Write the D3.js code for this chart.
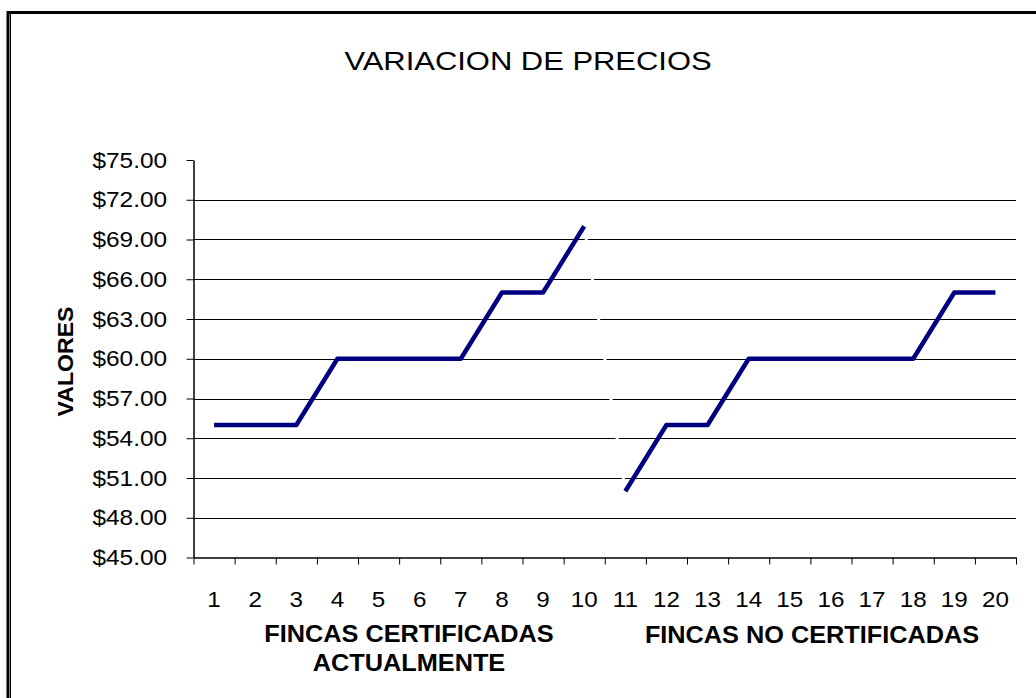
<!DOCTYPE html>
<html>
<head>
<meta charset="utf-8">
<script src="https://cdn.jsdelivr.net/npm/d3@7"></script>
<style>
  body { margin: 0; background: #fff; }
  svg { display: block; font-family: 'Liberation Sans', Arial, sans-serif; }
</style>
</head>
<body>
<svg id="chart" width="1036" height="698"></svg>
<script>
// data
const fincas = ['1', '2', '3', '4', '5', '6', '7', '8', '9', '10',
  '11', '12', '13', '14', '15', '16', '17', '18', '19', '20']
const certificadas = [55, 55, 55, 60, 60, 60, 60, 65, 65, 70]
const noCertificadas = [50, 55, 55, 60, 60, 60, 60, 60, 65, 65]
const yTicks = [45, 48, 51, 54, 57, 60, 63, 66, 69, 72, 75]
const titulo = 'VARIACION DE PRECIOS'
const yTitulo = 'VALORES'
const grupo1 = ['FINCAS CERTIFICADAS', 'ACTUALMENTE']
const grupo2 = ['FINCAS NO CERTIFICADAS']

const svg = d3.select('#chart')
const margin = {top: 160, left: 193.5, right: 1016, bottom: 557.5}

// frame (double line on the left, heavy on top)
svg.append('path')
  .attr('d', 'M8,698 V12.5 H1040')
  .attr('fill', 'none').attr('stroke', '#000').attr('stroke-width', 3)
svg.append('line')
  .attr('x1', 10.5).attr('x2', 10.5).attr('y1', 14).attr('y2', 698)
  .attr('stroke', '#000').attr('stroke-width', 1)

const x = d3.scaleBand()
  .domain(fincas)
  .range([margin.left, margin.right])

const xEdge = d3.scaleLinear()
  .domain([0, fincas.length])
  .range([margin.left, margin.right])

const y = d3.scaleLinear()
  .domain([45, 75])
  .range([margin.bottom, margin.top])

// gridlines
svg.append('g')
  .selectAll('line')
  .data(yTicks.filter(d => d !== 45 && d !== 75))
  .enter().append('line')
  .attr('x1', margin.left).attr('x2', margin.right)
  .attr('y1', d => Math.round(y(d)) + 0.5).attr('y2', d => Math.round(y(d)) + 0.5)
  .attr('stroke', '#000').attr('stroke-width', 1)

// y axis
const yAxis = svg.append('g')
  .attr('transform', 'translate(' + margin.left + ',0)')
  .call(d3.axisLeft(y)
    .tickValues(yTicks)
    .tickSize(7)
    .tickSizeOuter(0)
    .tickFormat(d3.format('$.2f')))
yAxis.select('.domain').attr('stroke', '#000').attr('stroke-width', 1.5)
yAxis.selectAll('.tick line').attr('stroke', '#000')
yAxis.selectAll('.tick text')
  .attr('font-size', 22)
  .attr('font-family', 'Liberation Sans, Arial, sans-serif')
  .attr('fill', '#000')
  .attr('x', -23.8)
  .attr('transform', 'scale(1.11,1)')

// x axis: tick marks on category edges
const xTicksAxis = svg.append('g')
  .attr('transform', 'translate(0,' + margin.bottom + ')')
  .call(d3.axisBottom(xEdge)
    .tickValues(d3.range(0, fincas.length + 1))
    .tickSize(7)
    .tickSizeOuter(0)
    .tickFormat(''))
xTicksAxis.select('.domain').attr('stroke', '#000').attr('stroke-width', 1.5)
xTicksAxis.selectAll('.tick line').attr('stroke', '#000')

// x axis: labels centred in bands
const xLabels = svg.append('g')
  .attr('transform', 'translate(0,' + margin.bottom + ')')
  .call(d3.axisBottom(x).tickSize(0))
xLabels.select('.domain').remove()
xLabels.selectAll('.tick text')
  .attr('font-size', 22)
  .attr('font-family', 'Liberation Sans, Arial, sans-serif')
  .attr('fill', '#000')
  .attr('y', 49.5)
  .attr('dy', 0)
  .attr('transform', 'scale(1.1,1)')

// lines
const line = d3.line()
  .x(d => x(d[0]) + x.bandwidth() / 2)
  .y(d => y(d[1]))

const serie1 = certificadas.map((v, i) => [fincas[i], v])
const serie2 = noCertificadas.map((v, i) => [fincas[i + certificadas.length], v])

// hidden (white) joint between both groups
svg.append('path')
  .datum([serie1[serie1.length - 1], serie2[0]])
  .attr('d', line)
  .attr('fill', 'none')
  .attr('stroke', '#fff')
  .attr('stroke-width', 3)

svg.selectAll('.serie')
  .data([serie1, serie2])
  .enter().append('path')
  .attr('class', 'serie')
  .attr('d', line)
  .attr('fill', 'none')
  .attr('stroke', '#000080')
  .attr('stroke-width', 4.5)
  .attr('stroke-linejoin', 'round')

// texts, slightly stretched sideways like the original
function label(txt, px, py, size, bold, sx, rot) {
  const g = svg.append('g')
    .attr('transform', 'translate(' + px + ',' + py + ')' + (rot ? ' rotate(' + rot + ')' : ''))
  g.append('text')
    .attr('text-anchor', 'middle')
    .attr('font-size', size)
    .attr('font-weight', bold ? 'bold' : 'normal')
    .attr('transform', 'scale(' + sx + ',1)')
    .attr('fill', '#000')
    .text(txt)
}

label(titulo, 528, 70, 26, false, 1.19)
label(yTitulo, 73, 361.5, 22, true, 1.05, -90)
label(grupo1[0], 409, 642, 23, true, 1.1)
label(grupo1[1], 409, 671, 23, true, 1.1)
label(grupo2[0], 812, 643, 23, true, 1.1)
</script>
</body>
</html>
